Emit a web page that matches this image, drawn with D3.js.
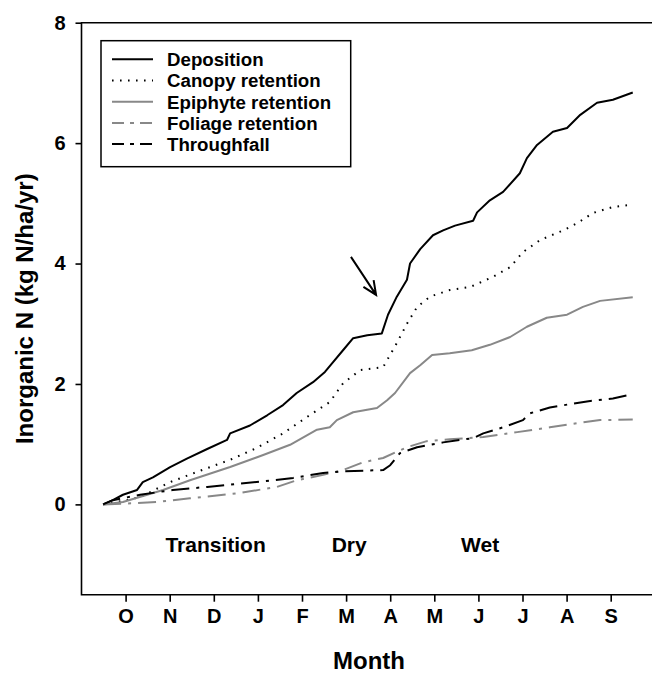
<!DOCTYPE html>
<html>
<head>
<meta charset="utf-8">
<script src="https://cdn.jsdelivr.net/npm/d3@7"></script>
<style>
  html, body { margin: 0; padding: 0; background: #fff; }
  svg { display: block; font-family: "Liberation Sans", Arial, sans-serif; font-weight: bold; }
</style>
</head>
<body>
<div id="chart"></div>
<script>
// Month ticks: O = 0 ... S = 11
const monthLabels = ['O', 'N', 'D', 'J', 'F', 'M', 'A', 'M', 'J', 'J', 'A', 'S'];
const yTicks = [0, 2, 4, 6, 8];

const seasons = ['Transition', 'Dry', 'Wet'];
const seasonPos = [2.04, 5.07, 8.04];

// cumulative inorganic N (kg N/ha/yr), x = month position
const depositionX = [-0.51, -0.29, -0.06, 0.26, 0.39, 0.62, 1.01, 1.39, 1.85, 2.30, 2.37, 2.82, 3.21, 3.57, 3.88, 4.25, 4.52, 4.70, 4.93, 5.16, 5.48, 5.81, 5.95, 6.15, 6.38, 6.45, 6.68, 6.97, 7.20, 7.47, 7.88, 7.97, 8.26, 8.56, 8.94, 9.10, 9.33, 9.69, 10.01, 10.31, 10.69, 11.05, 11.50];
const depositionY = [0, 0.07, 0.16, 0.24, 0.37, 0.45, 0.62, 0.76, 0.92, 1.07, 1.18, 1.31, 1.48, 1.65, 1.85, 2.03, 2.20, 2.36, 2.56, 2.76, 2.81, 2.84, 3.15, 3.45, 3.73, 4.00, 4.24, 4.47, 4.55, 4.63, 4.71, 4.85, 5.05, 5.19, 5.50, 5.75, 5.97, 6.19, 6.25, 6.47, 6.67, 6.72, 6.84];

const canopyX = [-0.51, -0.06, 0.33, 1.01, 1.62, 2.37, 2.98, 3.57, 4.11, 4.63, 4.93, 5.32, 5.84, 6.15, 6.38, 6.61, 6.90, 7.35, 7.81, 8.33, 8.72, 9.01, 9.40, 9.92, 10.24, 10.60, 11.05, 11.50];
const canopyY = [0, 0.06, 0.12, 0.37, 0.54, 0.74, 0.94, 1.18, 1.45, 1.70, 2.01, 2.23, 2.28, 2.68, 3.00, 3.28, 3.45, 3.56, 3.61, 3.78, 3.94, 4.19, 4.39, 4.55, 4.67, 4.84, 4.94, 4.98];

const epiphyteX = [-0.51, -0.06, 0.85, 1.46, 2.37, 3.12, 3.73, 4.34, 4.63, 4.79, 5.16, 5.70, 5.93, 6.11, 6.45, 6.68, 6.95, 7.35, 7.85, 8.26, 8.72, 9.10, 9.55, 10.01, 10.37, 10.76, 11.50];
const epiphyteY = [0, 0.04, 0.24, 0.40, 0.62, 0.82, 0.99, 1.24, 1.28, 1.40, 1.53, 1.60, 1.73, 1.85, 2.18, 2.31, 2.48, 2.51, 2.56, 2.65, 2.78, 2.95, 3.10, 3.15, 3.28, 3.38, 3.44];

const foliageX = [-0.51, -0.06, 0.71, 1.46, 2.59, 3.43, 3.88, 4.48, 4.93, 5.39, 5.84, 6.38, 6.83, 7.35, 8.11, 8.88, 9.62, 10.24, 10.76, 11.50];
const foliageY = [0, 0.01, 0.04, 0.10, 0.19, 0.29, 0.40, 0.49, 0.57, 0.70, 0.77, 0.95, 1.05, 1.08, 1.12, 1.20, 1.28, 1.35, 1.40, 1.41];

const throughfallX = [-0.51, -0.29, 0.33, 1.07, 1.85, 2.53, 3.34, 3.80, 4.48, 4.93, 5.84, 6.00, 6.22, 6.61, 7.20, 7.88, 8.11, 8.56, 9.01, 9.16, 9.62, 10.46, 11.05, 11.50];
const throughfallY = [0, 0.07, 0.16, 0.24, 0.29, 0.34, 0.40, 0.44, 0.52, 0.55, 0.57, 0.65, 0.85, 0.95, 1.03, 1.10, 1.18, 1.28, 1.40, 1.51, 1.61, 1.71, 1.76, 1.83];

// arrow: tail -> tip (month, value)
const arrowFrom = [5.11, 4.11];
const arrowTo = [5.68, 3.48];

const series = [
  { name: 'Deposition', x: depositionX, y: depositionY, color: '#000', dash: null, legendDash: null },
  { name: 'Canopy retention', x: canopyX, y: canopyY, color: '#000', dash: '1.6,6.4', legendDash: '1.6,6.4' },
  { name: 'Epiphyte retention', x: epiphyteX, y: epiphyteY, color: '#888', dash: null, legendDash: null },
  { name: 'Foliage retention', x: foliageX, y: foliageY, color: '#888', dash: '18,7,3,7', legendDash: '12,6,4,6' },
  { name: 'Throughfall', x: throughfallX, y: throughfallY, color: '#000', dash: '18,7,3,7', legendDash: '12,6,4,6' }
];

const width = 652, height = 673;
const plotLeft = 81.5, plotTop = 22.7, plotBottom = 594.7;

const svg = d3.select('#chart').append('svg')
  .attr('width', width)
  .attr('height', height);

const x = d3.scaleLinear().domain([-1, 12]).range([plotLeft, 654.8]);
const y = d3.scaleLinear().domain([-1.5, 8]).range([plotBottom, plotTop]);

// frame (right edge falls outside the picture)
svg.append('path')
  .attr('d', `M${width + 5},${plotTop}H${plotLeft}V${plotBottom}H${width + 5}`)
  .attr('fill', 'none')
  .attr('stroke', '#000')
  .attr('stroke-width', 1.6);

// axes
const yAxis = svg.append('g')
  .attr('transform', `translate(${plotLeft},0)`)
  .call(d3.axisLeft(y).tickValues(yTicks).tickSize(6).tickPadding(10).tickFormat(d3.format('d')));
yAxis.select('.domain').remove();
yAxis.selectAll('line').attr('stroke-width', 1.6);
yAxis.selectAll('text').attr('font-size', 20).attr('font-weight', 'bold')
  .attr('font-family', '"Liberation Sans", Arial, sans-serif').attr('fill', '#000');

const xAxis = svg.append('g')
  .attr('transform', `translate(0,${plotBottom})`)
  .call(d3.axisBottom(x).tickValues(d3.range(monthLabels.length)).tickSize(7).tickPadding(7)
    .tickFormat(i => monthLabels[i]));
xAxis.select('.domain').remove();
xAxis.selectAll('line').attr('stroke-width', 1.6);
xAxis.selectAll('text').attr('font-size', 20).attr('font-weight', 'bold')
  .attr('font-family', '"Liberation Sans", Arial, sans-serif').attr('fill', '#000');

// axis titles
svg.append('text')
  .attr('transform', `translate(33,${(plotTop + plotBottom) / 2}) rotate(-90)`)
  .attr('text-anchor', 'middle')
  .attr('font-size', 24)
  .text('Inorganic N (kg N/ha/yr)');

svg.append('text')
  .attr('x', 369)
  .attr('y', 669)
  .attr('text-anchor', 'middle')
  .attr('font-size', 24)
  .text('Month');

// season labels
svg.selectAll('.season')
  .data(seasons)
  .enter()
  .append('text')
  .attr('class', 'season')
  .attr('x', (d, i) => x(seasonPos[i]))
  .attr('y', 552)
  .attr('text-anchor', 'middle')
  .attr('font-size', 21)
  .text(d => d);

// lines
const line = d3.line()
  .x(d => x(d[0]))
  .y(d => y(d[1]));

svg.selectAll('.series')
  .data(series)
  .enter()
  .append('path')
  .attr('class', 'series')
  .attr('d', s => line(s.x.map((v, i) => [v, s.y[i]])))
  .attr('fill', 'none')
  .attr('stroke', s => s.color)
  .attr('stroke-width', 2)
  .attr('stroke-linejoin', 'round')
  .attr('stroke-dasharray', s => s.dash);

// arrow
const ax0 = x(arrowFrom[0]), ay0 = y(arrowFrom[1]);
const ax1 = x(arrowTo[0]), ay1 = y(arrowTo[1]);
const ang = Math.atan2(ay1 - ay0, ax1 - ax0);
const headLen = 15, headAng = 0.42;
svg.append('path')
  .attr('d', `M${ax0},${ay0}L${ax1},${ay1}` +
    `M${ax1 - headLen * Math.cos(ang - headAng)},${ay1 - headLen * Math.sin(ang - headAng)}L${ax1},${ay1}` +
    `L${ax1 - headLen * Math.cos(ang + headAng)},${ay1 - headLen * Math.sin(ang + headAng)}`)
  .attr('fill', 'none')
  .attr('stroke', '#000')
  .attr('stroke-width', 2);

// legend
const legend = svg.append('g');
legend.append('rect')
  .attr('x', 101).attr('y', 40.7)
  .attr('width', 249.7).attr('height', 126)
  .attr('fill', '#fff')
  .attr('stroke', '#000')
  .attr('stroke-width', 1.5);

const rows = legend.selectAll('.row')
  .data(series)
  .enter()
  .append('g')
  .attr('class', 'row')
  .attr('transform', (d, i) => `translate(0,${59.3 + i * 21.2})`);

rows.append('line')
  .attr('x1', 112).attr('x2', 153)
  .attr('stroke', d => d.color)
  .attr('stroke-width', 2)
  .attr('stroke-dasharray', d => d.legendDash);

rows.append('text')
  .attr('x', 167)
  .attr('y', 6.8)
  .attr('font-size', 18.7)
  .text(d => d.name);
</script>
</body>
</html>
